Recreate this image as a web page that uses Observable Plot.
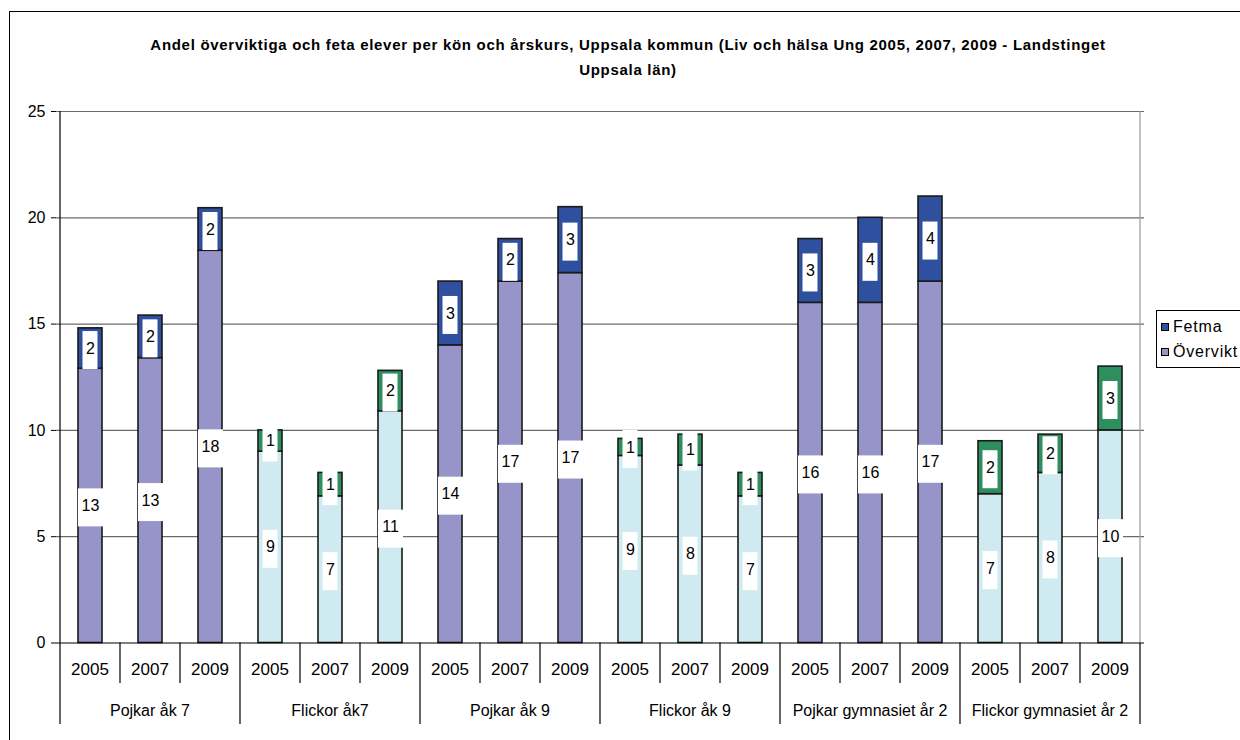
<!DOCTYPE html>
<html>
<head>
<meta charset="utf-8">
<script src="https://cdn.jsdelivr.net/npm/d3@7"></script>
<script src="https://cdn.jsdelivr.net/npm/@observablehq/plot@0.6"></script>
<style>
  html, body { margin: 0; padding: 0; background: #fff; overflow: hidden; }
  #wrap { position: relative; width: 1240px; height: 740px; overflow: hidden; font-family: "Liberation Sans", Arial, sans-serif; }
  #frame { position: absolute; left: 9px; top: 11px; width: 1300px; height: 800px; border-left: 1.5px solid #000; border-top: 1.5px solid #000; }
  #title { position: absolute; left: 0; top: 32px; width: 1256px; text-align: center; font-weight: bold; font-size: 15px; letter-spacing: 0.7px; line-height: 25px; color: #000; }
  #chart { position: absolute; left: 0; top: 0; }
  #legend { position: absolute; left: 1156px; top: 310px; width: 110px; height: 56px; border: 1px solid #000; background: #fff; font-size: 16px; letter-spacing: 0.8px; }
  .li { position: absolute; left: 4px; display: flex; align-items: center; white-space: nowrap; }
  .sw { width: 6px; height: 6px; border: 1px solid #000; margin-right: 4px; }
</style>
</head>
<body>
<div id="wrap">
  <div id="frame"></div>
  <div id="chart"></div>
  <div id="title">Andel överviktiga och feta elever per kön och årskurs, Uppsala kommun (Liv och hälsa Ung 2005, 2007, 2009 - Landstinget<br>Uppsala län)</div>
  <div id="legend">
    <div class="li" style="top:7px"><div class="sw" style="background:#2F4F9F"></div>Fetma</div>
    <div class="li" style="top:32px"><div class="sw" style="background:#9694C8"></div>Övervikt</div>
  </div>
</div>
<script>
const groups = ["Pojkar åk 7", "Flickor åk7", "Pojkar åk 9", "Flickor åk 9", "Pojkar gymnasiet år 2", "Flickor gymnasiet år 2"];
const years = ["2005", "2007", "2009"];
const overvikt = [12.9, 13.4, 18.45, 9.0, 6.9, 10.9, 14.0, 17.0, 17.4, 8.8, 8.35, 6.9, 16.0, 16.0, 17.0, 7.0, 8.0, 10.0];
const fetma = [1.9, 2.0, 2.0, 1.0, 1.1, 1.9, 3.0, 2.0, 3.1, 0.8, 1.45, 1.1, 3.0, 4.0, 4.0, 2.49, 1.8, 3.0];
const yTicks = [0, 5, 10, 15, 20, 25];

const colors = {
  boyOv: "#9694C8", boyFe: "#2F4F9F",
  girlOv: "#CFEAF0", girlFe: "#2E8F5E"
};

const keys = [];
const rows = [];
const labs = [];
groups.forEach((g, gi) => years.forEach((y, yi) => {
  const i = gi * 3 + yi;
  const key = g + "|" + y;
  keys.push(key);
  const boy = g.startsWith("Pojkar");
  rows.push({key, series: "Övervikt", value: overvikt[i], fill: boy ? colors.boyOv : colors.girlOv});
  rows.push({key, series: "Fetma", value: fetma[i], fill: boy ? colors.boyFe : colors.girlFe});
  labs.push({key, mid: overvikt[i] / 2, text: String(Math.round(overvikt[i]))});
  labs.push({key, mid: overvikt[i] + fetma[i] / 2, text: String(Math.round(fetma[i]))});
}));

const chart = Plot.plot({
  width: 1240,
  height: 740,
  marginLeft: 56,
  marginRight: 96,
  marginTop: 111,
  marginBottom: 97.5,
  style: {fontFamily: "'Liberation Sans', Arial, sans-serif", fontSize: "16px", background: "transparent", color: "#000"},
  x: {domain: keys, paddingInner: 0.6, paddingOuter: 0.3, axis: null},
  y: {domain: [0, 25], axis: null},
  color: {type: "identity"},
  marks: [
    Plot.gridY(yTicks.slice(1), {stroke: "#6a6a6a", strokeOpacity: 1, strokeWidth: 1.2}),
    Plot.barY(rows, {x: "key", y: "value", z: "series", order: ["Övervikt", "Fetma"], fill: "fill", stroke: "#1a1a1a", strokeWidth: 1.6}),
    Plot.barY(labs.filter(d => d.text.length === 1), {x: "key", y1: "mid", y2: "mid", insetTop: -17, insetBottom: -21, insetLeft: 4.5, insetRight: 4.5, fill: "white"}),
    Plot.barY(labs.filter(d => d.text.length > 1), {x: "key", y1: "mid", y2: "mid", insetTop: -17, insetBottom: -21, insetLeft: 0, insetRight: -1, fill: "white"}),
    Plot.text(labs, {x: "key", y: "mid", text: "text", fontSize: 16, fill: "#000"}),
    Plot.axisY({ticks: yTicks, tickSize: 5, tickPadding: 6, fontSize: 16, tickFormat: d => String(d), stroke: "#000"}),
    Plot.ruleY([0], {stroke: "#000", strokeWidth: 1.2})
  ]
});
document.getElementById("chart").appendChild(chart);

// hierarchical category axis and plot border drawn with the plot's own scales
const xs = chart.scale("x");
const ys = chart.scale("y");
const svg = d3.select(chart);
const bw = xs.bandwidth;
const step = xs.apply(keys[1]) - xs.apply(keys[0]);
const y0 = ys.apply(0);
const yTop = ys.apply(25);
const boundary = i => i < keys.length ? xs.apply(keys[i]) + bw / 2 - step / 2 : xs.apply(keys[keys.length - 1]) + bw / 2 + step / 2;
const xLeft = boundary(0), xRight = boundary(keys.length);
const g = svg.append("g").attr("font-family", "'Liberation Sans', Arial, sans-serif");
g.append("line").attr("x1", xRight).attr("x2", xRight).attr("y1", yTop).attr("y2", y0).attr("stroke", "#9a9a9a").attr("stroke-width", 1.2);
g.append("line").attr("x1", xLeft).attr("x2", xLeft).attr("y1", yTop).attr("y2", y0).attr("stroke", "#000").attr("stroke-width", 1.2);
for (let i = 0; i <= keys.length; i++) {
  const x = boundary(i);
  g.append("line").attr("x1", x).attr("x2", x).attr("y1", y0).attr("y2", y0 + (i % 3 === 0 ? 81.5 : 40.5)).attr("stroke", "#000").attr("stroke-width", 1.2);
}
keys.forEach((k, i) => {
  g.append("text").attr("x", xs.apply(k) + bw / 2).attr("y", y0 + 26.5).attr("dy", "0.35em")
    .attr("text-anchor", "middle").attr("font-size", 17).text(years[i % 3]);
});
groups.forEach((gr, gi) => {
  const k = keys[gi * 3 + 1];
  g.append("text").attr("x", xs.apply(k) + bw / 2).attr("y", y0 + 67.5).attr("dy", "0.35em")
    .attr("text-anchor", "middle").attr("font-size", 16).text(gr);
});
</script>
</body>
</html>
